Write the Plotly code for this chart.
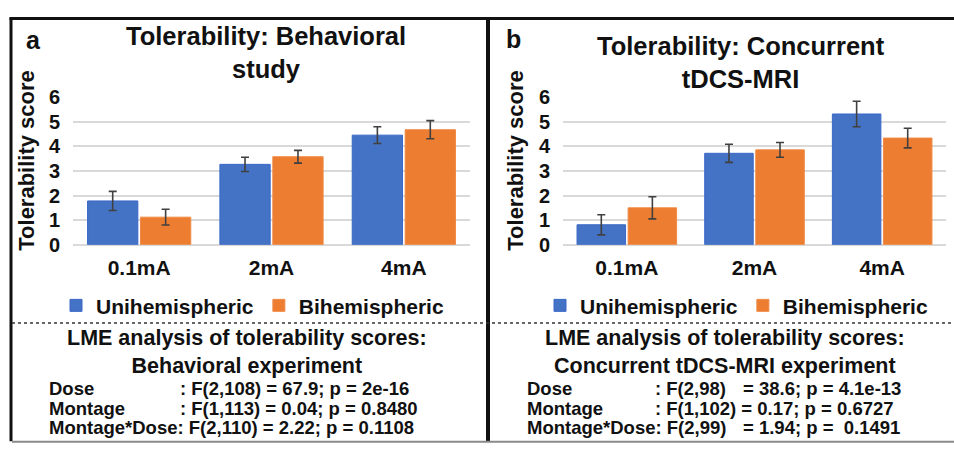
import plotly.graph_objects as go

# ---------------- data ----------------
doses = ["0.1mA", "2mA", "4mA"]
series_names = ["Unihemispheric", "Bihemispheric"]

beh_uni = [1.78, 3.27, 4.46]
beh_uni_err = [0.39, 0.29, 0.34]
beh_bi = [1.12, 3.58, 4.68]
beh_bi_err = [0.32, 0.26, 0.37]

mri_uni = [0.81, 3.72, 5.32]
mri_uni_err = [0.41, 0.37, 0.52]
mri_bi = [1.50, 3.86, 4.34]
mri_bi_err = [0.45, 0.30, 0.40]

y_ticks = [0, 1, 2, 3, 4, 5, 6]

title_a = "Tolerability: Behavioral<br>study"
title_b = "Tolerability: Concurrent<br>tDCS-MRI"
lme_a = "LME analysis of tolerability scores:<br>Behavioral experiment"
lme_b = "LME analysis of tolerability scores:<br>Concurrent tDCS-MRI experiment"

stat_labels = ["Dose", "Montage", "Montage*Dose: F(2,110) = 2.22; p = 0.1108"]
stats_a = [": F(2,108) = 67.9; p = 2e-16", ": F(1,113) = 0.04; p = 0.8480", ""]
stat_labels_b = ["Dose", "Montage", "Montage*Dose: F(2,99)"]
stats_b_f = [": F(2,98)", ": F(1,102) = 0.17; p = 0.6727", ""]
stats_b_rest = ["= 38.6; p = 4.1e-13", "", "= 1.94; p =  0.1491"]

# ---------------- styling ----------------
W, H = 954, 456
BLUE = "#4472C4"
ORANGE = "#ED7D31"
FONT = "Liberation Sans, Arial, sans-serif"
TXT = "#111111"


def px(x):
    return x / W


def py(y):
    return 1 - y / H


fig = go.Figure()


def add_bar(name, x, y, err, color, line, xa, ya, legend):
    fig.add_trace(go.Bar(
        name=name, x=x, y=y,
        error_y=dict(type="data", array=err, color="#404040", thickness=1.6, width=4),
        marker=dict(color=color, line=dict(color=line, width=1)),
        xaxis=xa, yaxis=ya, legend=legend, showlegend=True,
    ))


add_bar(series_names[0], doses, beh_uni, beh_uni_err, BLUE, "#3A68C8", "x", "y", "legend")
add_bar(series_names[1], doses, beh_bi, beh_bi_err, ORANGE, "#F08A45", "x", "y", "legend")
add_bar(series_names[0], doses, mri_uni, mri_uni_err, BLUE, "#3A68C8", "x2", "y2", "legend2")
add_bar(series_names[1], doses, mri_bi, mri_bi_err, ORANGE, "#F08A45", "x2", "y2", "legend2")

ydom = [py(246), py(91)]
yax = dict(range=[0, 6.02], tickvals=y_ticks, showgrid=True, gridcolor="#D9D9D9", gridwidth=1.5,
           zeroline=True, zerolinecolor="#D9D9D9", zerolinewidth=1.5, showline=False,
           tickfont=dict(family=FONT, size=20, color=TXT, weight="bold"),
           ticklabelstandoff=12, domain=ydom, fixedrange=True)
xax = dict(showgrid=False, showline=False, zeroline=False, ticks="",
           tickfont=dict(family=FONT, size=21, color=TXT, weight="bold"),
           ticklabelstandoff=8, fixedrange=True)

fig.update_layout(
    width=W, height=H, margin=dict(l=0, r=0, t=0, b=0),
    paper_bgcolor="white", plot_bgcolor="white",
    barmode="group", bargap=0.2, bargroupgap=0.05,
    font=dict(family=FONT, color=TXT),
    xaxis=dict(domain=[px(73), px(470)], anchor="y", **xax),
    yaxis=dict(anchor="x", **yax),
    xaxis2=dict(domain=[px(563), px(946)], anchor="y2", **xax),
    yaxis2=dict(anchor="x2", **yax),
    legend=dict(orientation="h", x=px(56), xanchor="left", y=py(310), yanchor="middle",
                font=dict(family=FONT, size=21, color=TXT, weight="bold"),
                bgcolor="rgba(0,0,0,0)", itemwidth=30, tracegroupgap=0),
    legend2=dict(orientation="h", x=px(540), xanchor="left", y=py(310), yanchor="middle",
                 font=dict(family=FONT, size=21, color=TXT, weight="bold"),
                 bgcolor="rgba(0,0,0,0)", itemwidth=30, tracegroupgap=0),
)

ann = []


def text(x, y, s, size, xanchor="center", angle=0):
    ann.append(dict(x=px(x), y=py(y), xref="paper", yref="paper", text=s, showarrow=False,
                    xanchor=xanchor, yanchor="middle", textangle=angle, align="center",
                    font=dict(family=FONT, size=size, color=TXT, weight="bold")))


# panel letters and titles
text(33, 31, "a", 25)
text(513, 30, "b", 25)
text(266, 45, title_a, 25.5)
text(741, 55, title_b, 25.5)
# y-axis titles
text(27, 158, "Tolerability score", 22, angle=-90)
text(516, 158, "Tolerability score", 22, angle=-90)
# LME blocks
text(247, 359, lme_a, 21.5)
text(725, 359, lme_b, 21.5)

rows_y = [397, 418, 438]
for i, yy in enumerate(rows_y):
    text(47, yy, stat_labels[i], 18.5, xanchor="left")
    if stats_a[i]:
        text(178, yy, stats_a[i], 18.5, xanchor="left")
    text(525, yy, stat_labels_b[i], 18.5, xanchor="left")
    if stats_b_f[i]:
        text(653, yy, stats_b_f[i], 18.5, xanchor="left")
    if stats_b_rest[i]:
        text(741, yy, stats_b_rest[i], 18.5, xanchor="left")

fig.update_layout(annotations=ann)

# frame lines
shapes = [
    dict(type="line", xref="paper", yref="paper", x0=px(9.5), x1=1, y0=py(9), y1=py(9),
         line=dict(color="#111111", width=3)),
    dict(type="line", xref="paper", yref="paper", x0=px(11), x1=px(11), y0=py(8), y1=py(452),
         line=dict(color="#111111", width=3)),
    dict(type="line", xref="paper", yref="paper", x0=px(488), x1=px(488), y0=py(8), y1=py(452),
         line=dict(color="#111111", width=4)),
    dict(type="line", xref="paper", yref="paper", x0=px(12), x1=1, y0=py(452.5), y1=py(452.5),
         line=dict(color="#8A8A8A", width=2)),
    dict(type="line", xref="paper", yref="paper", x0=px(12), x1=1, y0=py(328), y1=py(328),
         line=dict(color="#333333", width=1.5, dash="dot")),
]
fig.update_layout(shapes=shapes)

fig.write_html("out.html", config={"displayModeBar": False},
               post_script="document.body.style.margin='0';document.body.style.padding='0';"
                           "document.body.style.overflow='hidden';")
